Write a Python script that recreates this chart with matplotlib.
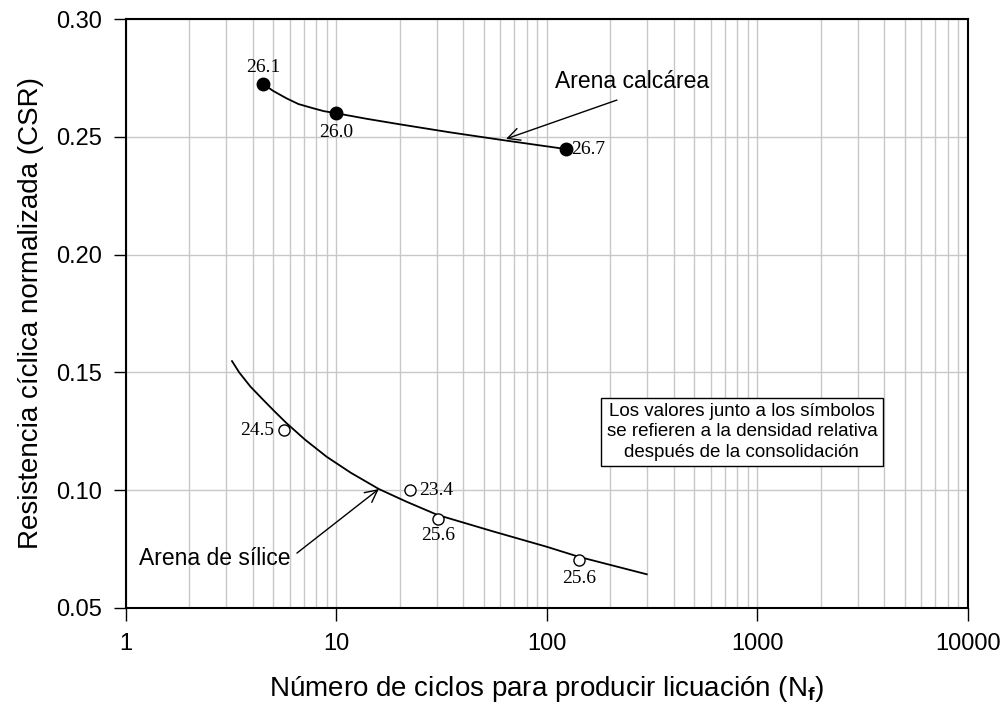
import matplotlib
matplotlib.use('Agg')
import matplotlib.pyplot as plt
from matplotlib.ticker import FixedLocator, FixedFormatter, LogLocator, NullFormatter

# ---- data ----
# Arena calcarea (filled circles)
calc_N = [4.49, 9.98, 123]
calc_csr = [0.2724, 0.2600, 0.2448]
calc_lbl = ['26.1', '26.0', '26.7']

# Arena de silice (open circles)
sil_N = [5.65, 22.3, 30.3, 142]
sil_csr = [0.1254, 0.1000, 0.0877, 0.0703]
sil_lbl = ['24.5', '23.4', '25.6', '25.6']

# trend curves, points
calc_curve_N = [4.49, 5.0, 5.80, 6.6, 7.76, 8.7, 9.98, 14.0, 20.0, 34.6, 63.9, 123]
calc_curve_csr = [0.2724, 0.2695, 0.2663, 0.2639, 0.2621, 0.2609, 0.2600, 0.2576,
                  0.2553, 0.2519, 0.2484, 0.2448]
sil_curve_N = [3.19, 3.45, 3.9, 4.47, 5.1, 5.80, 7.08, 8.98, 11.7, 15.9, 21.4,
               30.2, 55, 99.6, 142, 298]
sil_curve_csr = [0.1548, 0.1500, 0.1440, 0.1385, 0.1333, 0.1284, 0.1215, 0.1142,
                 0.1074, 0.1005, 0.0952, 0.0895, 0.0826, 0.0760, 0.0717, 0.0643]

xticks = [1, 10, 100, 1000, 10000]
xtick_labels = ['1', '10', '100', '1000', '10000']
yticks = [0.05, 0.10, 0.15, 0.20, 0.25, 0.30]
ytick_labels = ['0.05', '0.10', '0.15', '0.20', '0.25', '0.30']

plt.rcParams['font.family'] = 'Liberation Sans'
plt.rcParams['mathtext.fontset'] = 'custom'
plt.rcParams['mathtext.rm'] = 'Liberation Sans'
plt.rcParams['mathtext.bf'] = 'Liberation Sans:bold'

fig = plt.figure(figsize=(10.02, 7.04), dpi=100, facecolor='white')
ax = fig.add_axes([0.1257, 0.1364, 0.8403, 0.8366])

ax.set_xscale('log')
ax.set_xlim(1, 10000)
ax.set_ylim(0.05, 0.30)

# grid
ax.xaxis.set_major_locator(FixedLocator(xticks))
ax.xaxis.set_major_formatter(FixedFormatter(xtick_labels))
ax.xaxis.set_minor_locator(LogLocator(base=10, subs=range(2, 10)))
ax.xaxis.set_minor_formatter(NullFormatter())
ax.yaxis.set_major_locator(FixedLocator(yticks))
ax.yaxis.set_major_formatter(FixedFormatter(ytick_labels))
ax.grid(True, which='major', color='#c8c8c8', lw=1)
ax.grid(True, which='minor', axis='x', color='#c8c8c8', lw=1)
ax.set_axisbelow(True)

ax.tick_params(which='major', direction='out', length=9, width=1, labelsize=17,
               top=False, right=False)
ax.tick_params(axis='x', pad=9)
ax.tick_params(axis='y', pad=8)
ax.tick_params(which='minor', length=0)
for s in ax.spines.values():
    s.set_linewidth(1.5)

# curves
ax.plot(calc_curve_N, calc_curve_csr, '-', color='black', lw=1.3)
ax.plot(sil_curve_N, sil_curve_csr, '-', color='black', lw=1.3)

# markers
ax.plot(calc_N, calc_csr, 'o', color='black', ms=9, zorder=5)
ax.plot(sil_N, sil_csr, 'o', mfc='white', mec='black', mew=1.0, ms=8, zorder=5)

# value labels (offset in points)
calc_off = [(0, 12, 'center'), (0, -14, 'center'), (4, 0, 'left')]
sil_off = [(-7, 0, 'right'), (7, 0, 'left'), (0, -12, 'center'), (0, -13, 'center')]
for xv, yv, t, (dx, dy, ha) in zip(calc_N, calc_csr, calc_lbl, calc_off):
    ax.annotate(t, (xv, yv), xytext=(dx, dy), textcoords='offset points',
                ha=ha, va='center', fontsize=14, family='Liberation Serif')
for xv, yv, t, (dx, dy, ha) in zip(sil_N, sil_csr, sil_lbl, sil_off):
    ax.annotate(t, (xv, yv), xytext=(dx, dy), textcoords='offset points',
                ha=ha, va='center', fontsize=14, family='Liberation Serif')

# series annotations with arrows
ax.annotate('', xy=(63.9, 0.2491), xytext=(215, 0.2656),
            arrowprops=dict(arrowstyle='->', color='black', lw=1,
                            mutation_scale=22, shrinkA=0, shrinkB=0))
ax.text(109, 0.2733, 'Arena calcárea', fontsize=16.5, ha='left', va='center')

ax.annotate('', xy=(15.9, 0.1005), xytext=(6.49, 0.0733),
            arrowprops=dict(arrowstyle='->', color='black', lw=1,
                            mutation_scale=22, shrinkA=0, shrinkB=0))
ax.text(1.153, 0.0712, 'Arena de sílice', fontsize=16.5, ha='left', va='center')

ax.text(844, 0.1247,
        'Los valores junto a los símbolos\nse refieren a la densidad relativa\ndespués de la consolidación',
        fontsize=13.5, ha='center', va='center', multialignment='center', linespacing=1.24,
        bbox=dict(boxstyle='square,pad=0.3', fc='white', ec='black', lw=1), zorder=6)

ax.set_xlabel('Número de ciclos para producir licuación (N$_\\mathbf{f}$)', fontsize=20, labelpad=14)
ax.set_ylabel('Resistencia cíclica normalizada (CSR)', fontsize=20, labelpad=9)

fig.savefig('out.png', dpi=100, facecolor='white')
